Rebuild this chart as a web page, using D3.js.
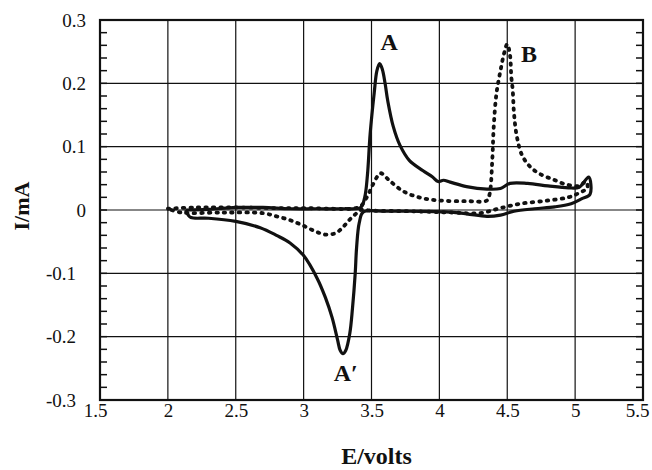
<!DOCTYPE html>
<html>
<head>
<meta charset="utf-8">
<script src="https://cdn.jsdelivr.net/npm/d3@7"></script>
<style>
  body { margin: 0; background: #fff; }
  .tick text { font-family: "Liberation Serif", "Times New Roman", serif; }
</style>
</head>
<body>
<div id="cv"></div>
<script>
// tick values
var xTicks = [1.5, 2, 2.5, 3, 3.5, 4, 4.5, 5, 5.5];
var yTicks = [-0.3, -0.2, -0.1, 0, 0.1, 0.2, 0.3];

// solid trace (E in volts, I in mA)
var solidE = [2.13, 2.3, 2.5, 2.7, 2.9, 3.1, 3.3, 3.42, 3.45, 3.47, 3.49, 3.52, 3.54, 3.56, 3.58, 3.6, 3.62, 3.66, 3.71, 3.78, 3.88, 3.95, 3.99, 4.03, 4.08, 4.2, 4.35, 4.45, 4.52, 4.65, 4.8, 4.95, 5.03, 5.1, 5.11, 5.05, 4.97, 4.85, 4.7, 4.55, 4.45, 4.35, 4.2, 4.05, 3.8, 3.6, 3.44, 3.41, 3.39, 3.38, 3.36, 3.34, 3.31, 3.29, 3.27, 3.25, 3.21, 3.16, 3.1, 3.0, 2.9, 2.8, 2.68, 2.5, 2.3, 2.17, 2.15, 2.13];
var solidI = [0.0, 0.001, 0.004, 0.004, 0.002, 0.002, 0.002, 0.004, 0.02, 0.055, 0.12, 0.185, 0.22, 0.231, 0.222, 0.2, 0.172, 0.132, 0.102, 0.078, 0.062, 0.052, 0.045, 0.047, 0.044, 0.037, 0.033, 0.034, 0.042, 0.042, 0.038, 0.035, 0.036, 0.052, 0.025, 0.018, 0.01, 0.005, 0.002, -0.002, -0.008, -0.01, -0.006, -0.003, -0.002, -0.002, -0.003, -0.02, -0.06, -0.1, -0.155, -0.195, -0.222, -0.227, -0.222, -0.205, -0.17, -0.138, -0.108, -0.072, -0.052, -0.04, -0.028, -0.018, -0.013, -0.012, -0.008, 0.0];

// dotted trace
var dotE = [2.0, 2.2, 2.5, 2.8, 3.0, 3.2, 3.35, 3.42, 3.47, 3.51, 3.55, 3.57, 3.63, 3.73, 3.85, 4.0, 4.2, 4.35, 4.37, 4.39, 4.4, 4.42, 4.45, 4.48, 4.5, 4.52, 4.53, 4.54, 4.55, 4.57, 4.61, 4.67, 4.74, 4.84, 4.94, 5.03, 5.08, 5.09, 5.03, 4.95, 4.8, 4.6, 4.45, 4.3, 4.1, 3.8, 3.5, 3.42, 3.38, 3.34, 3.29, 3.24, 3.17, 3.1, 3.0, 2.9, 2.8, 2.7, 2.4, 2.1, 2.0];
var dotI = [0.002, 0.004, 0.004, 0.003, 0.003, 0.002, 0.002, 0.006, 0.022, 0.04, 0.055, 0.058, 0.047, 0.03, 0.02, 0.015, 0.014, 0.015, 0.025, 0.08, 0.13, 0.183, 0.22, 0.25, 0.262, 0.245, 0.21, 0.19, 0.152, 0.117, 0.086, 0.068, 0.057, 0.048, 0.04, 0.038, 0.045, 0.035, 0.027, 0.02, 0.015, 0.01, 0.003, -0.005, -0.004, -0.002, -0.001, 0.0, -0.007, -0.015, -0.027, -0.036, -0.039, -0.035, -0.025, -0.016, -0.01, -0.005, -0.004, -0.004, 0.002];

var peakLabels = [
  {text: "A", E: 3.63, I: 0.262},
  {text: "B", E: 4.66, I: 0.242},
  {text: "A\u2032", E: 3.31, I: -0.262}
];

var margin = {top: 20, right: 9, bottom: 70, left: 100},
    width = 652 - margin.left - margin.right,
    height = 470 - margin.top - margin.bottom;

var svg = d3.select("#cv")
    .append("svg")
    .attr("width", 652)
    .attr("height", 470),
    g = svg.append("g")
        .attr("transform", "translate(" + margin.left + "," + margin.top + ")");

var x = d3.scaleLinear().domain([1.5, 5.5]).range([0, width]);
var y = d3.scaleLinear().domain([-0.3, 0.3]).range([height, 0]);

// grid
g.selectAll(".vgrid")
    .data(xTicks.slice(1, -1))
    .enter().append("line")
      .attr("x1", function(d) { return x(d); })
      .attr("x2", function(d) { return x(d); })
      .attr("y1", 0)
      .attr("y2", height)
      .attr("stroke", "#111")
      .attr("stroke-width", 1.2);

g.selectAll(".hgrid")
    .data(yTicks.slice(1, -1))
    .enter().append("line")
      .attr("x1", 0)
      .attr("x2", width)
      .attr("y1", function(d) { return y(d); })
      .attr("y2", function(d) { return y(d); })
      .attr("stroke", "#111")
      .attr("stroke-width", 1.2);

// minor ticks inside left and right edges
var minor = d3.range(-0.28, 0.3, 0.02);
g.selectAll(".minorL")
    .data(minor)
    .enter().append("line")
      .attr("x1", 0).attr("x2", 7)
      .attr("y1", function(d) { return y(d); })
      .attr("y2", function(d) { return y(d); })
      .attr("stroke", "#111").attr("stroke-width", 1.5);
g.selectAll(".minorR")
    .data(minor)
    .enter().append("line")
      .attr("x1", width - 7).attr("x2", width)
      .attr("y1", function(d) { return y(d); })
      .attr("y2", function(d) { return y(d); })
      .attr("stroke", "#111").attr("stroke-width", 1.5);

// axes
var xAxis = g.append("g")
    .attr("transform", "translate(0," + height + ")")
    .call(d3.axisBottom(x).tickValues(xTicks).tickSize(0).tickPadding(3)
        .tickFormat(function(d) { return String(d); }));
var yAxis = g.append("g")
    .call(d3.axisLeft(y).tickValues(yTicks).tickSize(0).tickPadding(14)
        .tickFormat(function(d) { return String(+d.toFixed(1)); }));
[xAxis, yAxis].forEach(function(a) {
    a.select(".domain").remove();
    a.selectAll("text").attr("font-size", 19).attr("fill", "#111");
});
// negative labels sit a bit further left in the original
yAxis.selectAll(".tick text")
    .attr("dx", function(d) { return d < 0 ? -10 : 0; });
// last x label runs to the page edge
xAxis.selectAll(".tick text")
    .attr("dx", function(d) { return d == 5.5 ? -6 : (d == 1.5 ? -5 : 0); });

// frame
g.append("rect")
    .attr("width", width)
    .attr("height", height)
    .attr("fill", "none")
    .attr("stroke", "#111")
    .attr("stroke-width", 2.2);

var line = d3.line()
    .x(function(d) { return x(d[0]); })
    .y(function(d) { return y(d[1]); })
    .curve(d3.curveCatmullRom.alpha(0.5));

g.append("path")
    .datum(d3.zip(dotE, dotI))
    .attr("d", line)
    .attr("fill", "none")
    .attr("stroke", "#111")
    .attr("stroke-width", 3.8)
    .attr("stroke-linecap", "round")
    .attr("stroke-dasharray", "1.5 6");

g.append("path")
    .datum(d3.zip(solidE, solidI))
    .attr("d", line)
    .attr("fill", "none")
    .attr("stroke", "#111")
    .attr("stroke-width", 3.2)
    .attr("stroke-linejoin", "round");

// peak letters
g.selectAll(".peak")
    .data(peakLabels)
    .enter().append("text")
      .attr("x", function(d) { return x(d.E); })
      .attr("y", function(d) { return y(d.I); })
      .attr("text-anchor", "middle")
      .attr("dominant-baseline", "middle")
      .style("font-family", "Liberation Serif, serif")
      .style("font-weight", "bold")
      .style("font-size", "24px")
      .attr("fill", "#111")
      .text(function(d) { return d.text; });

// axis titles
svg.append("text")
    .attr("x", margin.left + width / 2 + 5)
    .attr("y", 464)
    .attr("text-anchor", "middle")
    .style("font-family", "Liberation Serif, serif")
    .style("font-weight", "bold")
    .style("font-size", "24px")
    .attr("fill", "#111")
    .text("E/volts");

svg.append("text")
    .attr("transform", "translate(29," + (margin.top + height / 2 - 4) + ") rotate(-90)")
    .attr("text-anchor", "middle")
    .style("font-family", "Liberation Serif, serif")
    .style("font-weight", "bold")
    .style("font-size", "22px")
    .attr("fill", "#111")
    .text("I/mA");
</script>
</body>
</html>
